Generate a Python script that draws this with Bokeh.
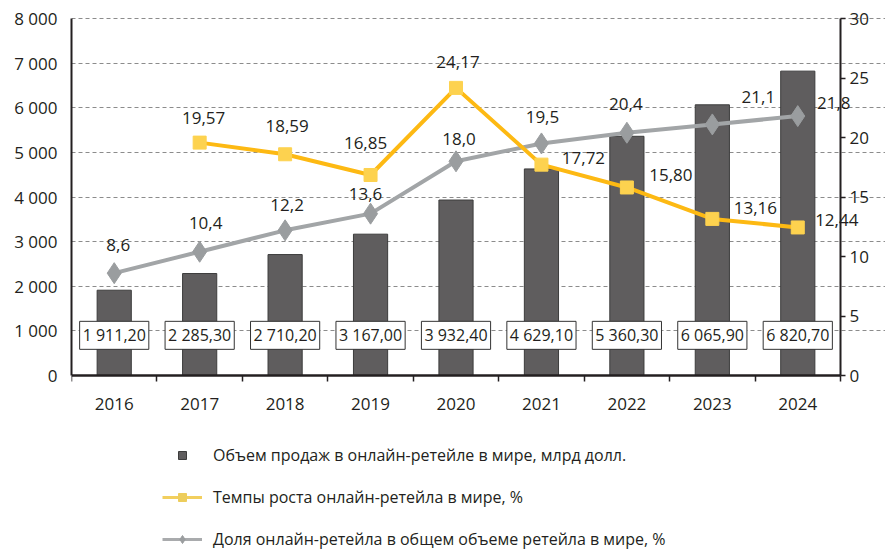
from bokeh.plotting import figure
from bokeh.layouts import column
from bokeh.models import (Range1d, LinearAxis, FixedTicker, ColumnDataSource, Grid,
                          Legend, LegendItem, Label)
from bokeh.core.properties import value
from bokeh.embed import file_html
from bokeh.resources import INLINE

# ---------------- data ----------------
years = ["2016", "2017", "2018", "2019", "2020", "2021", "2022", "2023", "2024"]
sales = [1911.20, 2285.30, 2710.20, 3167.00, 3932.40, 4629.10, 5360.30, 6065.90, 6820.70]
growth = [None, 19.57, 18.59, 16.85, 24.17, 17.72, 15.80, 13.16, 12.44]
share = [8.6, 10.4, 12.2, 13.6, 18.0, 19.5, 20.4, 21.1, 21.8]
left_ticks = [0, 1000, 2000, 3000, 4000, 5000, 6000, 7000, 8000]
right_ticks = [0, 5, 10, 15, 20, 25, 30]
legend_labels = ["Объем продаж в онлайн-ретейле в мире, млрд долл.",
                 "Темпы роста онлайн-ретейла в мире, %",
                 "Доля онлайн-ретейла в общем объеме ретейла в мире, %"]

# label placement (pixels: dx right, dy up)
growth_label_off = [None, (4, 25), (2, 28), (-5, 32), (2, 26), (42, 7), (44, 12), (43, 11), (39, 7)]
share_label_off = [(4, 28), (6, 29), (2, 25), (-5, 20), (3, 22), (1, 26), (-1, 29), (46, 27), (36, 13)]

FONT = "Open Sans"
TXT = "#231f20"
BAR = "#5f5d5e"
YEL = "#fdb913"
YEL_M = "#fdd24f"
GRY = "#a2a5a7"
GRY_M = "#9a9d9f"

# layout (pixels)
W, H_MAIN, H_LEG = 885, 425, 128
LEFT, TOP, PLOT_W, PLOT_H = 71, 18, 769, 357
BOT_PAD = 17                      # room under the zero line inside the frame
FRAME_H = TOP + PLOT_H + BOT_PAD


def fmt_thousands(v):
    s = f"{v:,.2f}"
    return s.replace(",", " ").replace(".", ",")


def fmt_dec(v, n):
    return f"{v:.{n}f}".replace(".", ",")


def padded(lo, hi):
    k = (hi - lo) / PLOT_H
    return Range1d(lo - BOT_PAD * k, hi + TOP * k)


n = len(years)
xc = [i + 0.5 for i in range(n)]
frame_w = W - LEFT
x_end = n * frame_w / PLOT_W

p = figure(frame_width=frame_w, frame_height=FRAME_H,
           x_range=Range1d(0, x_end), y_range=padded(left_ticks[0], left_ticks[-1]),
           x_axis_type=None, y_axis_type=None,
           output_backend="svg", toolbar_location=None,
           min_border_left=LEFT, min_border_right=0, min_border_top=0,
           min_border_bottom=H_MAIN - FRAME_H)
p.outline_line_color = None
p.extra_y_ranges = {"pct": padded(right_ticks[0], right_ticks[-1])}

# grid
grid = Grid(dimension=1, ticker=FixedTicker(ticks=left_ticks[1:]), bounds=(0, n),
            grid_line_color="#8c8c8c", grid_line_dash="4 3", grid_line_width=1)
p.add_layout(grid, "center")

# left axis
lax = LinearAxis(ticker=FixedTicker(ticks=left_ticks), bounds=(left_ticks[0], left_ticks[-1]),
                 major_label_overrides={t: fmt_thousands(t)[:-3] for t in left_ticks},
                 major_tick_in=0, major_tick_out=0, minor_tick_out=0, minor_tick_in=0,
                 axis_line_width=2, axis_line_color=TXT, major_label_standoff=14,
                 major_label_text_font=FONT, major_label_text_font_size="17px",
                 major_label_text_color=TXT)
p.add_layout(lax, "left")

# secondary (percent) axis at the right end of the categories, ticks pointing right
rax = LinearAxis(y_range_name="pct", ticker=FixedTicker(ticks=right_ticks),
                 fixed_location=n, bounds=(right_ticks[0], right_ticks[-1]),
                 major_label_overrides={t: "" for t in right_ticks},
                 major_label_text_font_size="1px", major_label_standoff=0,
                 major_tick_in=5, major_tick_out=0, major_tick_line_width=1.5,
                 major_tick_line_color=TXT, minor_tick_out=0, minor_tick_in=0,
                 axis_line_width=2, axis_line_color=TXT)
p.add_layout(rax, "left")
rt_src = ColumnDataSource(dict(x=[n] * len(right_ticks), y=right_ticks,
                               txt=[str(t) for t in right_ticks]))
p.text(x="x", y="y", text="txt", source=rt_src, y_range_name="pct", x_offset=9,
       text_align="left", text_baseline="middle", text_font=value(FONT),
       text_font_size="17px", text_color=TXT)

# year labels (adjacent to frame) and category-boundary ticks on the zero line
year_ax = LinearAxis(ticker=FixedTicker(ticks=xc),
                     major_label_overrides={x: y for x, y in zip(xc, years)},
                     major_tick_in=0, major_tick_out=0, minor_tick_out=0, minor_tick_in=0,
                     axis_line_color=None, major_label_standoff=5,
                     major_label_text_font=FONT, major_label_text_font_size="17px",
                     major_label_text_color=TXT)
p.add_layout(year_ax, "below")

tick_ax = LinearAxis(ticker=FixedTicker(ticks=list(range(n + 1))), bounds=(0, n),
                     fixed_location=left_ticks[0],
                     major_label_overrides={i: "" for i in range(n + 1)},
                     major_tick_in=0, major_tick_out=6, major_tick_line_width=1.5,
                     major_tick_line_color=TXT, minor_tick_out=0, minor_tick_in=0,
                     axis_line_width=2.5, axis_line_color=TXT, major_label_standoff=0,
                     major_label_text_font_size="1px")
p.add_layout(tick_ax, "below")

# bars
bar_src = ColumnDataSource(dict(x=xc, top=sales,
                                ly=[left_ticks[1] * 0.9] * n,
                                txt=[fmt_thousands(v) for v in sales]))
p.vbar(x="x", top="top", bottom=0, width=0.4, source=bar_src, fill_color=BAR,
       line_color="#3c3c3c", line_width=1)

# share line (gray)
sh_src = ColumnDataSource(dict(x=xc, y=share))
p.line("x", "y", source=sh_src, y_range_name="pct", line_color=GRY, line_width=4)
p.scatter("x", "y", source=sh_src, y_range_name="pct", marker="diamond",
          size=21, fill_color=GRY_M, line_color=GRY_M)

# growth line (yellow)
gi = [i for i, g in enumerate(growth) if g is not None]
gr_src = ColumnDataSource(dict(x=[xc[i] for i in gi], y=[growth[i] for i in gi]))
p.line("x", "y", source=gr_src, y_range_name="pct", line_color=YEL, line_width=4)
p.scatter("x", "y", source=gr_src, y_range_name="pct", marker="square",
          size=13, fill_color=YEL_M, line_color=YEL_M)

# labels
p.text(x="x", y="ly", text="txt", source=bar_src, text_align="center",
       text_baseline="middle", text_font=value(FONT), text_font_size="16px",
       text_color=TXT, background_fill_color="white", border_line_color="#333333",
       border_line_width=1, padding=3)


def add_label(xv, yv, txt, off):
    p.add_layout(Label(x=xv, y=yv, y_range_name="pct", text=txt,
                       x_offset=off[0], y_offset=off[1], text_align="center",
                       text_baseline="middle", text_font=FONT, text_font_size="17px",
                       text_color=TXT))


for i in range(n):
    add_label(xc[i], share[i], fmt_dec(share[i], 1), share_label_off[i])
for i in gi:
    add_label(xc[i], growth[i], fmt_dec(growth[i], 2), growth_label_off[i])

# legend (separate strip below the chart)
lg = figure(width=W, height=H_LEG, x_range=Range1d(0, 1), y_range=Range1d(0, 1),
            x_axis_type=None, y_axis_type=None, output_backend="svg",
            toolbar_location=None, min_border=0)
lg.outline_line_color = None
nan = [float("nan")]
d_bar = lg.scatter(x=nan, y=nan, marker="square", size=12, fill_color=BAR, line_color="#3c3c3c")
d_gl = lg.line(x=nan, y=nan, line_color="#f2cf5e", line_width=3)
d_gm = lg.scatter(x=nan, y=nan, marker="square", size=13, fill_color="#edcd5c", line_color="#edcd5c")
d_sl = lg.line(x=nan, y=nan, line_color="#a9abad", line_width=3)
d_sm = lg.scatter(x=nan, y=nan, marker="diamond", size=21, fill_color=GRY_M, line_color=GRY_M)
legend = Legend(items=[LegendItem(label=legend_labels[0], renderers=[d_bar]),
                       LegendItem(label=legend_labels[1], renderers=[d_gl, d_gm]),
                       LegendItem(label=legend_labels[2], renderers=[d_sl, d_sm])],
                location=(91, 3), orientation="vertical", padding=0, spacing=20,
                glyph_width=40, glyph_height=20, label_height=20, label_standoff=11,
                border_line_color=None, background_fill_alpha=0, margin=0,
                label_text_font=FONT, label_text_font_size="16px", label_text_color=TXT)
lg.add_layout(legend, "center")

layout = column(p, lg, spacing=0)
open("out.html", "w").write(file_html(layout, INLINE))
